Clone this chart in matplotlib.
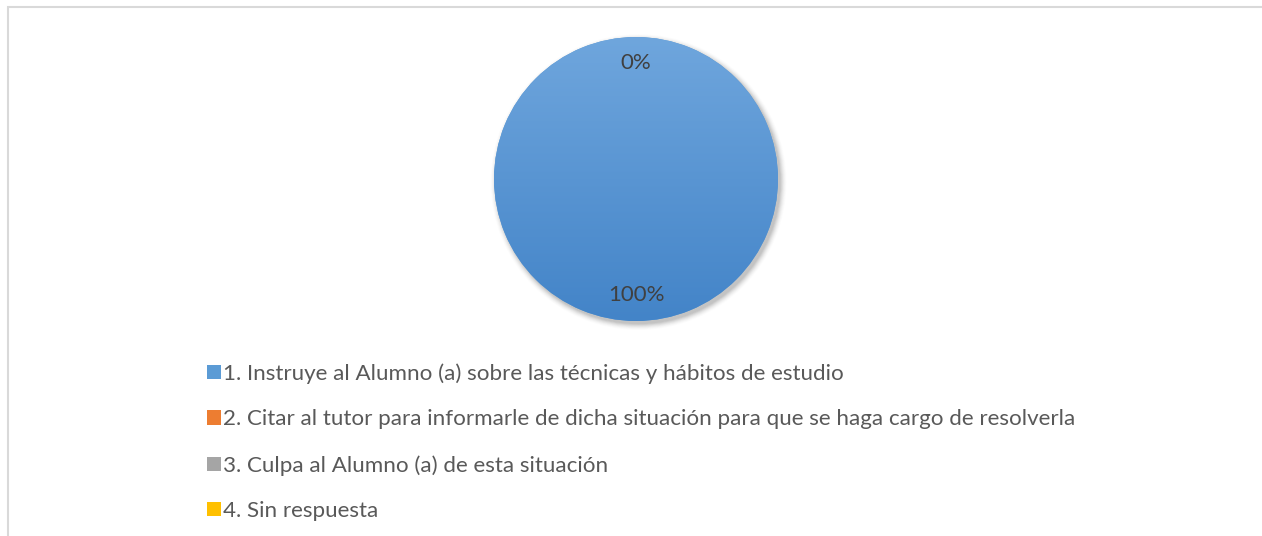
import numpy as np
import matplotlib
matplotlib.use("Agg")
import matplotlib.pyplot as plt
from matplotlib.patches import Rectangle, Circle
from matplotlib.colors import LinearSegmentedColormap

categories = [
    "1. Instruye al Alumno (a) sobre las técnicas y hábitos de estudio",
    "2. Citar al tutor para informarle de dicha situación para que se haga cargo de resolverla",
    "3. Culpa al Alumno (a) de esta situación",
    "4. Sin respuesta",
]
values = [100, 0, 0, 0]
colors = ["#5b9bd5", "#ed7d31", "#a5a5a5", "#ffc000"]

FONT = "Lato"
W, H = 1262, 536
fig = plt.figure(figsize=(W / 100, H / 100), dpi=100)
fig.patch.set_facecolor("white")

# chart area border (runs off the right and bottom edges)
fig.patches.append(Rectangle((7.5 / W, -0.1), 1.2, (H - 6.5) / H + 0.1,
                             transform=fig.transFigure, fill=False,
                             edgecolor="#d9d9d9", linewidth=1.5, zorder=0))

# pie axes: radius 1 maps to ~142 px
cx, cy, r = 636, 179, 142
ax = fig.add_axes([(cx - r) / W, (H - cy - r) / H, 2 * r / W, 2 * r / H])
ax.set_xlim(-1, 1)
ax.set_ylim(-1, 1)
ax.set_aspect("equal")
ax.axis("off")

# soft drop shadow
for i, a in enumerate(np.linspace(0.05, 0.012, 8)):
    ax.add_patch(Circle((0.018, -0.022), 1.0 + 0.006 * i, facecolor="black",
                        edgecolor="none", alpha=a, zorder=1, clip_on=False))

wedges, texts, autotexts = ax.pie(
    values, colors=colors, startangle=90, counterclock=False,
    autopct=lambda p: f"{p:.0f}%", pctdistance=0.82,
    wedgeprops=dict(linewidth=0), textprops=dict(color="#404040", fontsize=16,
                                                  family=FONT),
    normalize=True, frame=False)
for w in wedges:
    w.set_zorder(2)

# vertical gradient fill on the main slice
grad = np.linspace(0, 1, 256).reshape(-1, 1)
cmap = LinearSegmentedColormap.from_list("g", ["#4384c8", "#6fa6dd"])
im = ax.imshow(grad, extent=[-1, 1, -1, 1], origin="lower", cmap=cmap,
               aspect="auto", zorder=3)
im.set_clip_path(wedges[0])
ax.set_xlim(-1, 1)
ax.set_ylim(-1, 1)

# the three zero slices share one label at the top
for t in autotexts:
    t.set_zorder(5)
for t in autotexts[2:]:
    t.set_visible(False)

leg = fig.legend(wedges, categories, loc="upper left",
                 bbox_to_anchor=(196 / W, (H - 352) / H),
                 frameon=False, handlelength=0.6, handleheight=0.6,
                 handletextpad=0.1, labelspacing=1.145, borderpad=0,
                 prop=dict(family=FONT, size=16.1))
for t in leg.get_texts():
    t.set_color("#595959")

fig.savefig("out.png", dpi=100)
